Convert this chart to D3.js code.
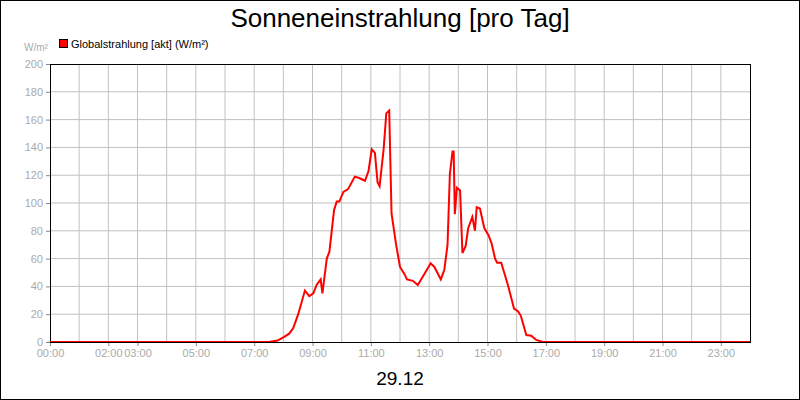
<!DOCTYPE html><html><head><meta charset="utf-8"><script src="https://cdn.jsdelivr.net/npm/d3@7"></script>
<style>body{margin:0}svg{font-family:"Liberation Sans",Arial,sans-serif}</style></head><body><script>
const hours=[0,7.5,7.8,8.0,8.2,8.34,8.51,8.74,8.89,9.03,9.14,9.28,9.34,9.49,9.58,9.74,9.83,9.92,10.06,10.22,10.45,10.6,10.8,10.92,11.03,11.14,11.23,11.3,11.44,11.53,11.63,11.71,11.86,12.0,12.15,12.24,12.44,12.61,12.78,13.05,13.18,13.4,13.52,13.63,13.71,13.8,13.84,13.88,13.95,14.06,14.14,14.25,14.34,14.48,14.57,14.63,14.74,14.89,15.03,15.14,15.26,15.33,15.47,15.7,15.91,16.05,16.14,16.33,16.5,16.67,16.9,24];
const values=[0,0,1,3.4,6,10,20,37,33,35,41,45,35,60,65,95,101,101,108,110,119,118,116,123,138.6,136,115,112,139,164.5,166.5,92.5,71,54,49,45,44,41,47,56.6,54,45,52,70,121,137,137,92,111,109,64,69,82,90,80,97,96,82,77,71,60,57,57,41,24,22,19,5,4.5,1.5,0,0];
const yTicks=[0,20,40,60,80,100,120,140,160,180,200];
const xTickHours=[0,2,3,5,7,9,11,13,15,17,19,21,23];
const fmt=h=>String(h).padStart(2,"0")+":00";
const W=800,H=400,L=50,R=750,T=64,B=342;
const svg=d3.select("body").append("svg").attr("width",W).attr("height",H);
svg.append("rect").attr("x",0.5).attr("y",0.5).attr("width",W-1).attr("height",H-1).attr("fill","#fff").attr("stroke","#000");
const x=d3.scaleLinear().domain([0,24]).range([L,R]);
const y=d3.scaleLinear().domain([0,200]).range([B,T]);
const g=svg.append("g");
g.selectAll(".vg").data(d3.range(1,24)).join("line").attr("x1",d=>x(d)).attr("x2",d=>x(d)).attr("y1",T).attr("y2",B).attr("stroke","#c0c0c0");
g.selectAll(".hg").data(yTicks.slice(1,-1)).join("line").attr("x1",L).attr("x2",R).attr("y1",d=>y(d)).attr("y2",d=>y(d)).attr("stroke","#c0c0c0");
const ya=svg.append("g").attr("transform",`translate(${L},0)`).call(d3.axisLeft(y).tickValues(yTicks).tickSize(4).tickSizeOuter(0));
ya.select(".domain").remove();
ya.selectAll("line").attr("stroke","#888");
ya.selectAll("text").attr("fill","#aaa").attr("font-size",11).attr("font-family","Liberation Sans");
const xa=svg.append("g").attr("transform",`translate(0,${B})`).call(d3.axisBottom(x).tickValues(xTickHours).tickFormat(fmt).tickSize(4).tickSizeOuter(0));
xa.select(".domain").remove();
xa.selectAll("line").attr("stroke","#888");
xa.selectAll("text").attr("fill","#aaa").attr("font-size",11).attr("font-family","Liberation Sans");
svg.append("rect").attr("x",L+0.5).attr("y",T+0.5).attr("width",R-L).attr("height",B-T).attr("fill","none").attr("stroke","#000");
svg.append("path").datum(hours.map((h,i)=>[h,values[i]])).attr("fill","none").attr("stroke","#ff0000").attr("stroke-width",2)
 .attr("d",d3.line().x(d=>x(d[0])).y(d=>y(d[1])));
svg.append("line").attr("x1",L).attr("x2",R).attr("y1",B+0.5).attr("y2",B+0.5).attr("stroke","#000");
svg.append("text").attr("x",400).attr("y",27).attr("text-anchor","middle").attr("font-size",26).text("Sonneneinstrahlung [pro Tag]");
svg.append("text").attr("x",24).attr("y",51).attr("font-size",10).attr("fill","#aaa").text("W/m²");
svg.append("rect").attr("x",59.5).attr("y",39.5).attr("width",8).attr("height",8).attr("fill","#ff0000").attr("stroke","#000");
svg.append("text").attr("x",71).attr("y",48).attr("font-size",11).text("Globalstrahlung [akt] (W/m²)");
svg.append("text").attr("x",400).attr("y",385).attr("text-anchor","middle").attr("font-size",19).text("29.12");
</script></body></html>
